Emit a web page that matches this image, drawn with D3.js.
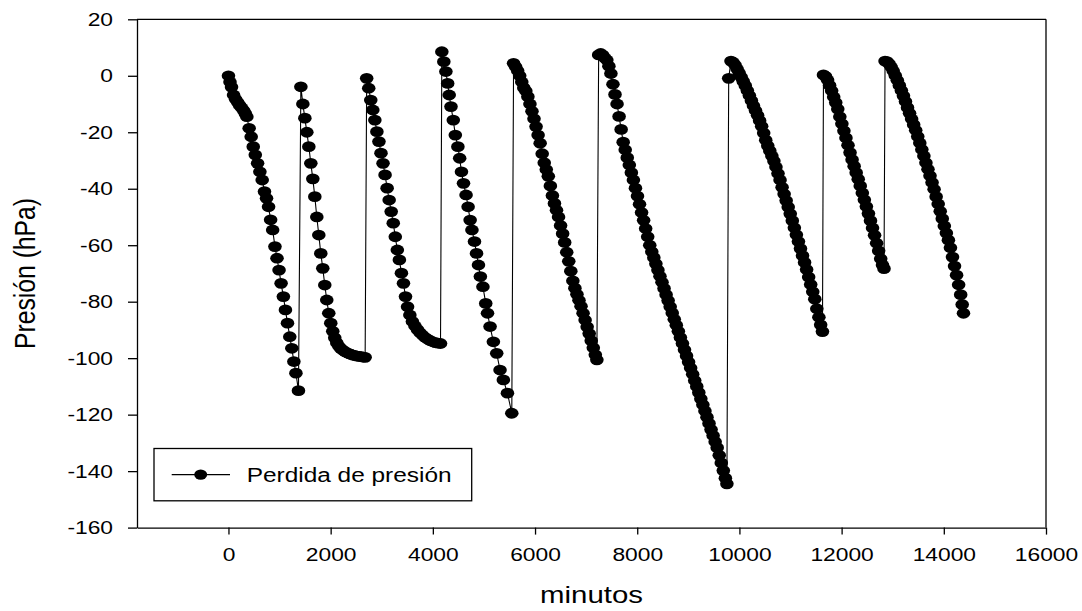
<!DOCTYPE html>
<html>
<head>
<meta charset="utf-8">
<script src="https://cdn.jsdelivr.net/npm/d3@7"></script>
<style>
  html, body { margin: 0; padding: 0; background: #ffffff; }
  svg { display: block; }
</style>
</head>
<body>
<svg id="chart" width="1082" height="611"></svg>
<script>
// ---------------- DATA ----------------
const serieNombre = "Perdida de presión";
const tituloX = "minutos";
const tituloY = "Presión (hPa)";
const xTicks = [0, 2000, 4000, 6000, 8000, 10000, 12000, 14000, 16000];
const yTicks = [20, 0, -20, -40, -60, -80, -100, -120, -140, -160];

const minutos = [
  // ciclo 1
  0,30,60,100,140,180,220,260,300,330,360,405,445,485,525,570,615,660,705,745,785,825,865,910,950,990,1030,1075,1115,1155,1200,1240,1280,1320,1370,
  // ciclo 2
  1417,1456,1495,1534,1573,1612,1651,1690,1729,1768,1807,1846,1885,1924,1963,2002,2041,2080,2120,2160,2200,2240,2280,2320,2360,2400,2440,2480,2520,2560,2600,2640,2675,
  // ciclo 3
  2705,2745,2785,2825,2865,2905,2945,2985,3025,3065,3105,3145,3185,3225,3265,3305,3345,3385,3425,3465,3505,3550,3600,3650,3700,3750,3800,3850,3900,3950,4000,4050,4100,4150,
  // ciclo 4
  4176,4215,4255,4290,4320,4355,4400,4440,4490,4525,4560,4600,4650,4690,4730,4765,4815,4855,4893,4930,4980,5035,5070,5120,5185,5250,5315,5380,5460,5545,
  // ciclo 5
  5580,5620,5660,5700,5740,5780,5820,5860,5900,5940,5980,6020,6060,6100,6140,6180,6220,6260,6300,6340,6380,6420,6460,6500,6540,6580,6620,6660,6700,6740,6780,6820,6860,6900,6940,6980,7020,7060,7100,7140,7180,7210,
  // ciclo 6
  7245,7285,7325,7365,7405,7445,7485,7525,7565,7605,7645,7685,7725,7765,7805,7845,7885,7925,7965,8005,8045,8085,8125,8165,8205,8245,8285,8325,8365,8405,8445,8485,8525,8565,8605,8645,8685,8725,8765,8805,8845,8885,8925,8965,9005,9045,9085,9125,9165,9205,9245,9285,9325,9365,9405,9445,9485,9525,9565,9605,9645,9685,9725,9755,
  // ciclo 7
  9790,9835,9875,9915,9955,9995,10035,10075,10115,10155,10195,10235,10275,10315,10355,10395,10435,10475,10515,10555,10595,10635,10675,10715,10755,10795,10835,10875,10915,10955,10995,11035,11075,11115,11155,11195,11235,11275,11315,11355,11395,11435,11475,11515,11555,11590,11625,
  // ciclo 8
  11645,11685,11725,11765,11805,11845,11885,11925,11965,12005,12045,12085,12125,12165,12205,12245,12285,12325,12365,12405,12445,12485,12525,12565,12605,12645,12685,12725,12765,12800,12830,
  // ciclo 9
  12850,12890,12930,12970,13010,13050,13090,13130,13170,13210,13250,13290,13330,13370,13410,13450,13490,13530,13570,13610,13650,13690,13730,13770,13810,13850,13890,13930,13970,14010,14050,14090,14130,14170,14210,14250,14290,14330,14360,14385
];

const presion = [
  // ciclo 1
  0,-2.2,-4,-6.8,-8.3,-9.4,-10.5,-11.4,-12.4,-13.4,-14.5,-18.6,-21.6,-25.1,-28,-31,-34,-36.9,-41,-43.4,-46.4,-51,-54.6,-60.5,-64.6,-68.8,-73.5,-78.2,-82.9,-87.6,-92.4,-96.5,-101.2,-105.3,-111.5,
  // ciclo 2
  -3.9,-10,-15,-20,-25.1,-31,-36.5,-42.8,-50,-56.4,-62.9,-68.2,-74.1,-79.4,-84.1,-87.6,-90.5,-92.8,-94.6,-95.8,-96.6,-97.2,-97.7,-98.1,-98.4,-98.7,-98.9,-99.1,-99.3,-99.4,-99.5,-99.6,-99.7,
  // ciclo 3
  -0.9,-4.4,-8.6,-12.1,-15.7,-19.8,-23.3,-27.4,-31,-35.1,-39.8,-44,-48.1,-52.2,-57,-61.7,-65.2,-69.9,-73.5,-78.2,-81.8,-84.7,-87,-88.6,-89.9,-91,-91.9,-92.7,-93.3,-93.8,-94.2,-94.5,-94.7,-94.8,
  // ciclo 4
  8.5,5,1.5,-2.7,-6.8,-10.9,-15.7,-21,-25.1,-29.2,-34,-38.1,-42.2,-46.4,-51.1,-54.6,-58.7,-62.9,-67,-71.1,-74.7,-80.6,-84.1,-88.8,-94.2,-98.3,-104.2,-107.7,-112.4,-119.5,
  // ciclo 5
  4.4,3.2,1.8,0,-2.2,-4.3,-5.4,-7.4,-10,-12.6,-15.2,-18,-21,-23.9,-27.6,-30.8,-33.2,-35.6,-39,-42.4,-45.2,-47.6,-50,-53,-55.9,-59,-62.5,-65.7,-69.2,-72.6,-75.2,-77.4,-79.5,-81.6,-84.1,-86.5,-88.9,-91.3,-93.8,-96.3,-98.8,-100.6,
  // ciclo 6
  7.4,7.9,7.3,6.3,5.6,3.4,0.8,-3,-6.6,-10,-14.4,-19,-23.5,-26.2,-29,-31.6,-34.3,-36.9,-39.8,-42.6,-45.5,-48.4,-51.2,-54.1,-57,-60,-62.3,-64.4,-66.6,-68.8,-71,-73.1,-75.3,-77.5,-79.6,-81.8,-84,-86.2,-88.3,-90.5,-92.7,-94.8,-97,-99.2,-101.4,-103.5,-105.7,-107.9,-110,-112.2,-114.4,-116.5,-118.7,-120.9,-123.1,-125.3,-127.4,-129.6,-131.7,-134.4,-137.1,-139.8,-142.5,-144.5,
  // ciclo 7
  -0.9,5.2,4.8,3.8,2.4,1.0,-0.5,-2,-3.5,-5.2,-7,-8.8,-10.6,-12.3,-14,-15.9,-17.9,-20.3,-22.8,-24.8,-26.6,-28.4,-30.2,-32.3,-34.6,-36.9,-39.5,-41.9,-44.2,-46.5,-48.9,-51.3,-53.8,-56.3,-58.7,-61.2,-63.7,-66.1,-68.6,-71.3,-73.9,-76.5,-79.1,-82.5,-85.5,-88.2,-90.6,
  // ciclo 8
  0.3,-0.2,-1.5,-3.4,-5.3,-7.5,-9.5,-11.8,-14.5,-17,-19.5,-22,-24.6,-27.2,-29.7,-32,-34.3,-36.6,-39,-41.5,-43.9,-46.3,-48.8,-51.3,-53.9,-56.5,-59.3,-62,-64.8,-67,-68.3,
  // ciclo 9
  5.2,5,4.2,3.1,1.7,0.1,-1.6,-3.4,-5.2,-7.1,-9.1,-11.3,-13.3,-15.3,-17.3,-19.3,-21.5,-23.8,-26.1,-28.4,-30.8,-33.1,-35.4,-37.8,-40.2,-42.8,-45.4,-48,-50.6,-53.2,-55.7,-58.2,-60.9,-64.2,-67.4,-70.6,-74,-77.5,-81,-84.1
];

// ---------------- LAYOUT ----------------
const FONT = '"Liberation Sans", Arial, Helvetica, sans-serif';
const STRETCH = 1.2;          // the reference text is horizontally widened
const plot = { left: 137, right: 1046, top: 19.3, bottom: 527.6 };

const x = d3.scaleLinear().domain([-1790, 16000]).range([plot.left, plot.right]);
const y = d3.scaleLinear().domain([-160, 20]).range([plot.bottom, plot.top]);

const svg = d3.select("#chart");
svg.append("rect").attr("width", 1082).attr("height", 611).attr("fill", "#fff");

// helper: stretched text
function stretchedText(parent, str, px, py, size, anchor, opts = {}) {
  const t = parent.append("text")
    .attr("x", 0).attr("y", 0)
    .attr("font-family", FONT)
    .attr("font-size", size)
    .attr("text-anchor", anchor)
    .attr("fill", "#000")
    .text(str);
  const natural = t.node().getComputedTextLength();
  if (opts.rotate) {
    const sy = opts.length ? opts.length / natural : 1;
    t.attr("transform", `translate(${px},${py}) scale(${STRETCH},${sy}) rotate(-90)`);
  } else {
    const sx = opts.width ? opts.width / natural : STRETCH;
    t.attr("transform", `translate(${px},${py}) scale(${sx},1)`);
  }
  return t;
}

// ---------------- AXES ----------------
const axisStroke = 1.3;
const plainNumber = d => String(d);   // hyphen-minus, as in the reference

const gx = svg.append("g")
  .attr("transform", `translate(0,${plot.bottom})`)
  .call(d3.axisBottom(x).tickValues(xTicks).tickSize(7).tickPadding(13).tickSizeOuter(0).tickFormat(plainNumber));

const gy = svg.append("g")
  .attr("transform", `translate(${plot.left},0)`)
  .call(d3.axisLeft(y).tickValues(yTicks).tickSize(9).tickPadding(15).tickSizeOuter(0).tickFormat(plainNumber));

[gx, gy].forEach(g => {
  g.selectAll("path.domain").attr("stroke", "#000").attr("stroke-width", axisStroke);
  g.selectAll(".tick line").attr("stroke", "#000").attr("stroke-width", axisStroke);
  g.selectAll(".tick text")
    .attr("font-family", FONT)
    .attr("font-size", 19)
    .attr("fill", "#000");
});
gx.selectAll(".tick text").attr("transform", `scale(${STRETCH},1)`);
gy.selectAll(".tick text").each(function () {
  const el = d3.select(this);
  el.attr("x", (+el.attr("x")) / STRETCH).attr("transform", `scale(${STRETCH},1)`);
});

// frame: top and right sides
svg.append("line")
  .attr("x1", plot.left).attr("x2", plot.right)
  .attr("y1", plot.top).attr("y2", plot.top)
  .attr("stroke", "#000").attr("stroke-width", axisStroke);
svg.append("line")
  .attr("x1", plot.right).attr("x2", plot.right)
  .attr("y1", plot.top).attr("y2", plot.bottom)
  .attr("stroke", "#000").attr("stroke-width", axisStroke);

// ---------------- SERIES ----------------
const idx = d3.range(minutos.length);
const line = d3.line().x(i => x(minutos[i])).y(i => y(presion[i]));

svg.append("path")
  .datum(idx)
  .attr("d", line)
  .attr("fill", "none")
  .attr("stroke", "#000")
  .attr("stroke-width", 1.1);

svg.append("g").selectAll("ellipse")
  .data(idx)
  .join("ellipse")
  .attr("cx", i => x(minutos[i]))
  .attr("cy", i => y(presion[i]))
  .attr("rx", 6.8)
  .attr("ry", 5.4)
  .attr("fill", "#000");

// ---------------- LEGEND ----------------
const lg = svg.append("g");
lg.append("rect")
  .attr("x", 154).attr("y", 448.5).attr("width", 317.7).attr("height", 52.3)
  .attr("fill", "#fff").attr("stroke", "#000").attr("stroke-width", 1.3);
lg.append("line")
  .attr("x1", 171.7).attr("x2", 230).attr("y1", 474.6).attr("y2", 474.6)
  .attr("stroke", "#000").attr("stroke-width", 1.1);
lg.append("ellipse")
  .attr("cx", 200.7).attr("cy", 474.6).attr("rx", 6.5).attr("ry", 5.2).attr("fill", "#000");
stretchedText(lg, serieNombre, 246.7, 481.7, 19.5, "start", { width: 205 });

// ---------------- TITLES ----------------
stretchedText(svg, tituloX, (plot.left + plot.right) / 2, 603, 23, "middle", { width: 103 });
stretchedText(svg, tituloY, 35, (plot.top + plot.bottom) / 2, 24, "middle", { rotate: true, length: 151 });
</script>
</body>
</html>
